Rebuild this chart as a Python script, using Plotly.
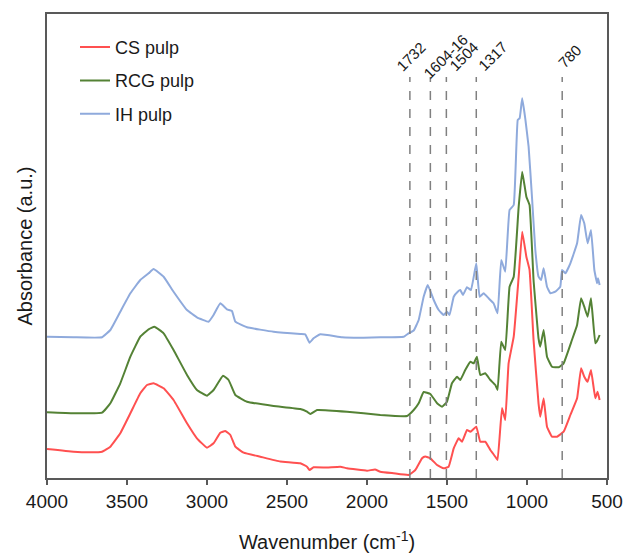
import plotly.graph_objects as go

# FTIR spectra of three pulps (absorbance offset per sample, arbitrary units)
cs_wn = [4000, 3834, 3729, 3656, 3604, 3542, 3479, 3417, 3375, 3334, 3271, 3209, 3125, 3063,
         3000, 2959, 2917, 2886, 2854, 2823, 2771, 2667, 2542, 2417, 2375, 2359, 2334, 2250,
         2167, 2125, 2000, 1950, 1917, 1834, 1740, 1698, 1656, 1636, 1604, 1562, 1521, 1490,
         1458, 1427, 1406, 1375, 1354, 1317, 1292, 1261, 1229, 1198, 1184, 1156, 1136, 1115,
         1083, 1052, 1030, 1004, 984, 959, 928, 917, 896, 875, 844, 812, 771, 729, 687, 662,
         642, 621, 600, 573, 559, 546]
cs_abs = [0.290, 0.263, 0.257, 0.263, 0.313, 0.447, 0.647, 0.847, 0.930, 0.947, 0.897, 0.780,
          0.547, 0.397, 0.303, 0.347, 0.453, 0.470, 0.430, 0.313, 0.253, 0.213, 0.165, 0.147,
          0.113, 0.080, 0.107, 0.105, 0.113, 0.097, 0.073, 0.085, 0.063, 0.047, 0.030, 0.080,
          0.197, 0.215, 0.197, 0.130, 0.097, 0.113, 0.297, 0.397, 0.363, 0.480, 0.463, 0.513,
          0.363, 0.363, 0.280, 0.213, 0.180, 0.700, 0.580, 1.147, 1.413, 2.013, 2.463, 2.213,
          2.080, 1.380, 0.747, 0.613, 0.797, 0.513, 0.413, 0.413, 0.463, 0.630, 0.797, 1.097,
          1.013, 0.963, 1.080, 0.797, 0.863, 0.780]

rcg_wn = [4000, 3834, 3656, 3604, 3542, 3479, 3417, 3365, 3329, 3271, 3209, 3125, 3063, 3000,
          2959, 2900, 2865, 2823, 2750, 2584, 2417, 2375, 2354, 2312, 2125, 1917, 1750, 1708,
          1677, 1646, 1604, 1562, 1531, 1500, 1469, 1437, 1417, 1386, 1354, 1333, 1313, 1292,
          1261, 1229, 1198, 1184, 1161, 1136, 1109, 1083, 1052, 1030, 1004, 984, 959, 928, 917,
          896, 875, 844, 802, 771, 719, 687, 662, 642, 621, 600, 573, 559, 546]
rcg_abs = [0.657, 0.647, 0.653, 0.747, 0.947, 1.213, 1.413, 1.487, 1.513, 1.447, 1.280, 1.030,
           0.880, 0.823, 0.880, 1.023, 0.980, 0.830, 0.763, 0.720, 0.690, 0.663, 0.640, 0.680,
           0.663, 0.630, 0.620, 0.680, 0.747, 0.860, 0.840, 0.747, 0.713, 0.763, 0.947, 1.013,
           0.980, 1.080, 1.163, 1.147, 1.213, 1.030, 1.047, 0.980, 0.930, 0.880, 1.363, 1.280,
           1.913, 2.013, 2.713, 3.063, 2.813, 2.730, 1.980, 1.397, 1.313, 1.480, 1.213, 1.113,
           1.107, 1.147, 1.380, 1.530, 1.797, 1.713, 1.613, 1.797, 1.347, 1.380, 1.430]

ih_wn = [4000, 3834, 3656, 3604, 3542, 3479, 3417, 3365, 3334, 3271, 3209, 3125, 3063, 2990,
         2959, 2917, 2875, 2844, 2823, 2750, 2584, 2417, 2386, 2359, 2334, 2292, 2156, 2021,
         1917, 1771, 1740, 1708, 1677, 1646, 1620, 1583, 1552, 1521, 1500, 1484, 1458, 1433,
         1417, 1400, 1375, 1350, 1317, 1296, 1271, 1240, 1209, 1184, 1161, 1136, 1109, 1083,
         1058, 1046, 1030, 1011, 990, 969, 948, 928, 912, 896, 875, 854, 823, 792, 781, 760,
         729, 687, 662, 642, 621, 600, 579, 562, 556, 546]
ih_abs = [1.413, 1.407, 1.407, 1.480, 1.663, 1.847, 1.980, 2.047, 2.090, 2.013, 1.863, 1.680,
          1.607, 1.563, 1.630, 1.747, 1.687, 1.670, 1.563, 1.507, 1.463, 1.440, 1.437, 1.353,
          1.397, 1.437, 1.407, 1.403, 1.407, 1.413, 1.447, 1.475, 1.580, 1.813, 1.930, 1.780,
          1.680, 1.630, 1.663, 1.630, 1.813, 1.863, 1.880, 1.830, 1.907, 1.880, 2.147, 1.813,
          1.847, 1.797, 1.747, 1.647, 2.180, 2.063, 2.680, 2.730, 3.580, 3.597, 3.797, 3.597,
          3.313, 2.813, 2.280, 2.013, 1.980, 2.097, 1.913, 1.847, 1.863, 1.913, 2.080, 2.047,
          2.147, 2.347, 2.630, 2.547, 2.347, 2.480, 2.080, 1.947, 1.997, 1.930]

# Band assignments marked with dashed guides
band_positions = [1732, 1604, 1504, 1317, 780]
band_labels = ["1732", "1604-16", "1504", "1317", "780"]

x_ticks = [4000, 3500, 3000, 2500, 2000, 1500, 1000, 500]

FONT = "Liberation Sans, Arial, sans-serif"
TEXT = "#1a1a1a"
FRAME = "#595959"

series = [
    ("CS pulp", cs_wn, cs_abs, "#FF5050"),
    ("RCG pulp", rcg_wn, rcg_abs, "#548235"),
    ("IH pulp", ih_wn, ih_abs, "#8FAADC"),
]

fig = go.Figure()
for i, (name, wn, ab, color) in enumerate(series):
    fig.add_trace(go.Scatter(
        x=wn, y=ab, name=name, mode="lines",
        line=dict(color=color, width=2, shape="spline", smoothing=0.3),
        legendgroup=f"g{i}",
    ))

# dashed band guides and their rotated labels
label_shift = [1, 15, 17, 16, 7]
for pos, lab, dx in zip(band_positions, band_labels, label_shift):
    fig.add_shape(type="line", xref="x", yref="paper", x0=pos, x1=pos, y0=0, y1=0.864,
                  line=dict(color="#808080", width=1.5, dash="dash"))
    fig.add_annotation(x=pos, y=0.909, xref="x", yref="paper", text=lab, showarrow=False,
                       textangle=-45, xanchor="center", yanchor="middle", xshift=dx,
                       font=dict(family=FONT, size=15, color=TEXT))

fig.update_layout(
    width=623, height=553,
    margin=dict(l=47, r=16, t=14, b=75, autoexpand=False),
    paper_bgcolor="white", plot_bgcolor="white",
    font=dict(family=FONT, color=TEXT),
    showlegend=True,
    legend=dict(x=0.05, y=0.968, xanchor="left", yanchor="top",
                font=dict(family=FONT, size=18, color=TEXT),
                bgcolor="rgba(0,0,0,0)", tracegroupgap=7, itemwidth=30),
    xaxis=dict(range=[4000, 500], tickvals=x_ticks, ticktext=[str(t) for t in x_ticks],
               ticks="outside", ticklen=5, tickwidth=1.5, tickcolor=FRAME,
               showline=True, linecolor=FRAME, linewidth=1.5, mirror=True,
               showgrid=False, zeroline=False, automargin=False,
               tickfont=dict(family=FONT, size=19, color=TEXT),
               title=dict(text="Wavenumber (cm<sup>-1</sup>)", standoff=26,
                          font=dict(family=FONT, size=20, color=TEXT))),
    yaxis=dict(range=[0, 4.64], showticklabels=False, ticks="",
               showline=True, linecolor=FRAME, linewidth=1.5, mirror=True,
               showgrid=False, zeroline=False, automargin=False,
               title=dict(text="Absorbance (a.u.)", standoff=7,
                          font=dict(family=FONT, size=20, color=TEXT))),
)

fig.write_html("out.html")
